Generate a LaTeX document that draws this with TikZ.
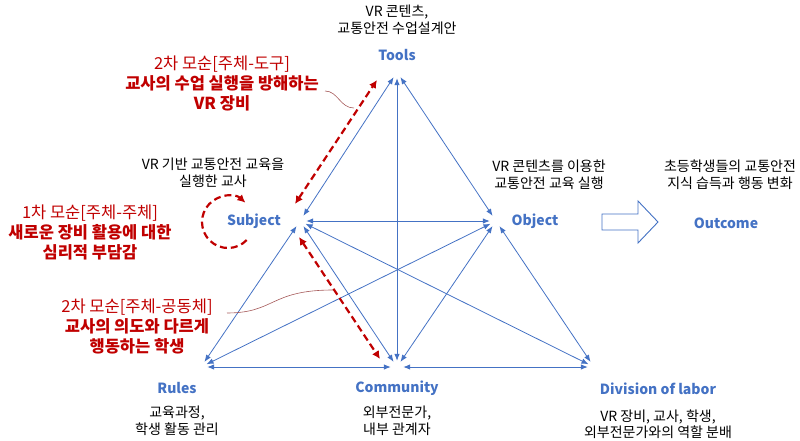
\documentclass[tikz,border=0pt]{standalone}
\usepackage{fontspec}
\setmainfont{Noto Sans CJK KR}
\usepackage{xcolor}
\usepackage{tikz}
\usetikzlibrary{arrows.meta}

\definecolor{actblue}{HTML}{4472C4}
\definecolor{contrared}{HTML}{C00000}
\definecolor{leadred}{HTML}{A65A5A}

\tikzset{
  vertex/.style={circle, inner sep=0pt, minimum size=12pt},
  elem/.style={text=actblue, font=\fontsize{14}{16}\selectfont\bfseries},
  note/.style={align=center, font=\fontsize{14}{16.5}\selectfont},
  contra/.style={align=center, text=contrared, font=\fontsize{16.5}{20}\selectfont},
  link/.style={actblue, line width=0.8pt,
    {Latex[length=7pt,width=5.5pt]}-{Latex[length=7pt,width=5.5pt]}},
  redlink/.style={contrared, line width=2.2pt, dash pattern=on 7pt off 4pt,
    {Latex[length=8pt,width=8pt]}-{Latex[length=8pt,width=8pt]}},
  leader/.style={leadred, line width=0.6pt}
}

\begin{document}
\begin{tikzpicture}[x=1pt,y=-1pt]
    \useasboundingbox (0,0) rectangle (800,441);

    % activity system corners
    \node[vertex] (T) at (397,72) {};
    \node[vertex] (S) at (300,221) {};
    \node[vertex] (O) at (496,221) {};
    \node[vertex] (R) at (201,367) {};
    \node[vertex] (C) at (397,367) {};
    \node[vertex] (D) at (594,367) {};

    \draw[link] (T) -- (S);
    \draw[link] (T) -- (O);
    \draw[link] (T) -- (C);
    \draw[link] (S) -- (O);
    \draw[link] (S) -- (R);
    \draw[link] (S) -- (C);
    \draw[link] (S) -- (D);
    \draw[link] (O) -- (R);
    \draw[link] (O) -- (C);
    \draw[link] (O) -- (D);
    \draw[link] (R) -- (C);
    \draw[link] (C) -- (D);

    % element labels
    \node[elem] (tools) at (397,55) {Tools};
    \node[elem] (subject) at (254,221) {Subject};
    \node[elem] (object) at (535,221) {Object};
    \node[elem] (outcome) at (726,223) {Outcome};
    \node[elem] (rules) at (177,388) {Rules};
    \node[elem] (community) at (397,388) {Community};
    \node[elem] (division) at (658,389) {Division of labor};

    \node[note] (toolsnote) at (397,20) {VR 콘텐츠,\\교통안전 수업설계안};
    \node[note] (subjnote) at (213,173) {VR 기반 교통안전 교육을\\실행한 교사};
    \node[note] (objnote) at (549,175) {VR 콘텐츠를 이용한\\교통안전 교육 실행};
    \node[note] (outnote) at (730,175) {초등학생들의 교통안전\\지식 습득과 행동 변화};
    \node[note] (rulesnote) at (177,421) {교육과정,\\학생 활동 관리};
    \node[note] (commnote) at (397,421) {외부전문가,\\내부 관계자};
    \node[note] (divnote) at (658,424) {VR 장비, 교사, 학생,\\외부전문가와의 역할 분배};

    % object -> outcome
    \draw[actblue, line width=0.9pt, fill=white]
      (602,214) -- (638,214) -- (638,201) -- (658,222) -- (638,243)
      -- (638,230) -- (602,230) -- cycle;

    % contradictions
    \node[contra] (c2tool) at (222,83)
      {2차 모순[주체-도구]\\\textbf{교사의 수업 실행을 방해하는}\\\textbf{VR 장비}};
    \node[contra] (c1self) at (90,232)
      {1차 모순[주체-주체]\\\textbf{새로운 장비 활용에 대한}\\\textbf{심리적 부담감}};
    \node[contra] (c2comm) at (137,326)
      {2차 모순[주체-공동체]\\\textbf{교사의 의도와 다르게}\\\textbf{행동하는 학생}};

    \coordinate (tsA) at (295,204);
    \coordinate (tsB) at (377,80);
    \coordinate (scA) at (299,237);
    \coordinate (scB) at (380,359);
    \draw[redlink] (tsA) -- (tsB);
    \draw[redlink] (scA) -- (scB);

    \coordinate (selfc) at (228,222);
    \draw[contrared, line width=2.2pt, dash pattern=on 7pt off 4pt,
          -{Latex[length=8pt,width=8pt]}]
      (selfc) ++(44:26) arc[start angle=44, end angle=312, radius=26];

    \coordinate (ld1a) at (325,91);
    \coordinate (ld1b) at (354,108);
    \draw[leader] (ld1a) .. controls (338,91) and (340,108) .. (ld1b);
    \coordinate (ld2a) at (227,313);
    \coordinate (ld2b) at (333,290);
    \draw[leader] (ld2a) .. controls (275,313) and (270,290) .. (ld2b);
\end{tikzpicture}
\end{document}
